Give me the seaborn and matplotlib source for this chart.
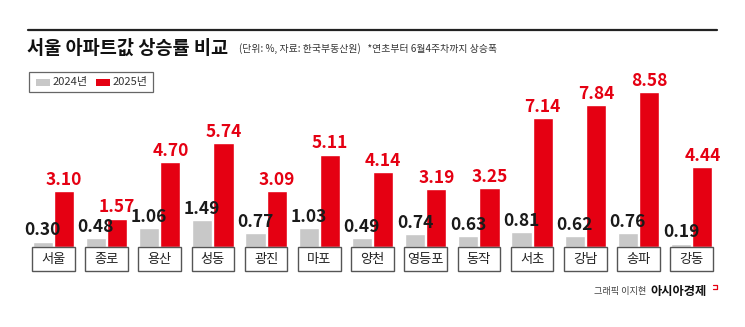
import matplotlib
matplotlib.use("Agg")
import matplotlib.pyplot as plt
from matplotlib.patches import Rectangle
from matplotlib.lines import Line2D
import seaborn as sns
import pandas as pd

# Data: Seoul apartment price growth (%), start of year through 4th week of June
districts = ["서울", "종로", "용산", "성동", "광진", "마포", "양천",
             "영등포", "동작", "서초", "강남", "송파", "강동"]
rise_2024 = [0.30, 0.48, 1.06, 1.49, 0.77, 1.03, 0.49, 0.74, 0.63, 0.81, 0.62, 0.76, 0.19]
rise_2025 = [3.10, 1.57, 4.70, 5.74, 3.09, 5.11, 4.14, 3.19, 3.25, 7.14, 7.84, 8.58, 4.44]
years = ["2024년", "2025년"]

GRAY = "#c8c8c8"
RED = "#e50012"
KR = ["Noto Sans CJK KR", "DejaVu Sans"]
NUM = ["Liberation Sans Narrow", "Noto Sans CJK KR", "DejaVu Sans"]

sns.set_theme(style="white")
plt.rcParams["font.family"] = KR

df = pd.DataFrame({
    "district": districts * 2,
    "year": [years[0]] * len(districts) + [years[1]] * len(districts),
    "value": rise_2024 + rise_2025,
})

W, H = 745, 327
fig = plt.figure(figsize=(W / 100, H / 100), dpi=100)
fig.patch.set_facecolor("white")


def fx(x):
    return x / W


def fy(y):
    return 1 - y / H


# plot area in pixel terms: baseline at y=247, 18.1 px per percentage point
base_y, top_y = 247, 60
ax = fig.add_axes([fx(28), fy(base_y), fx(717) - fx(28), (base_y - top_y) / H])
sns.barplot(data=df, x="district", y="value", hue="year", palette=[GRAY, RED],
            width=0.8, gap=0.05, saturation=1, legend=False, ax=ax)
ax.set_xlim(-0.476, 12.476)
ax.set_ylim(0, (base_y - top_y) / 18.1)
ax.set_axis_off()

# value labels
for cont, col in zip(ax.containers, ["#1a1a1a", RED]):
    vals = [b.get_height() for b in cont]
    ax.bar_label(cont, labels=[f"{v:.2f}" for v in vals], padding=1.5,
                 color=col, fontsize=12.5, fontweight="bold", family=NUM)

# district name boxes under the bars
box_h = 24 / 18.1
for i, name in enumerate(districts):
    ax.add_patch(Rectangle((i - 0.4, -box_h), 0.8, box_h, facecolor="white",
                           edgecolor="#555555", linewidth=1.0, clip_on=False))
    ax.text(i, -box_h / 2, name, ha="center", va="center", fontsize=9.5,
            color="#222222", clip_on=False)

# header rule and titles
fig.add_artist(Line2D([fx(28), fx(717)], [fy(30), fy(30)], color="#222222", lw=1.6))
fig.text(fx(27), fy(48), "서울 아파트값 상승률 비교", fontsize=13.4, fontweight="bold",
         color="#111111", ha="left", va="center")
fig.text(fx(239), fy(49), "(단위: %, 자료: 한국부동산원)   *연초부터 6월4주차까지 상승폭",
         fontsize=7.1, color="#333333", ha="left", va="center")

# legend
fig.add_artist(Rectangle((fx(29), fy(92)), fx(153) - fx(29), fy(72) - fy(92),
                         transform=fig.transFigure, facecolor="white",
                         edgecolor="#666666", linewidth=0.9))
for x0, col, lab in [(36, GRAY, years[0]), (96, RED, years[1])]:
    fig.add_artist(Rectangle((fx(x0), fy(85.5)), fx(14), fy(79) - fy(85.5),
                             transform=fig.transFigure, facecolor=col, edgecolor="none"))
    fig.text(fx(x0 + 17), fy(82), lab, fontsize=8, color="#333333",
             ha="left", va="center")

# credit
fig.text(fx(646), fy(291), "그래픽 이지현", fontsize=6.6, color="#444444",
         ha="right", va="center")
fig.text(fx(650), fy(291), "아시아경제", fontsize=8.8, fontweight="bold",
         color="#111111", ha="left", va="center")
fig.add_artist(Line2D([fx(713), fx(717), fx(717), fx(713)],
                      [fy(285), fy(285), fy(289), fy(289)],
                      color=RED, lw=0.9, transform=fig.transFigure))

fig.savefig("out.png", dpi=100, facecolor="white")
